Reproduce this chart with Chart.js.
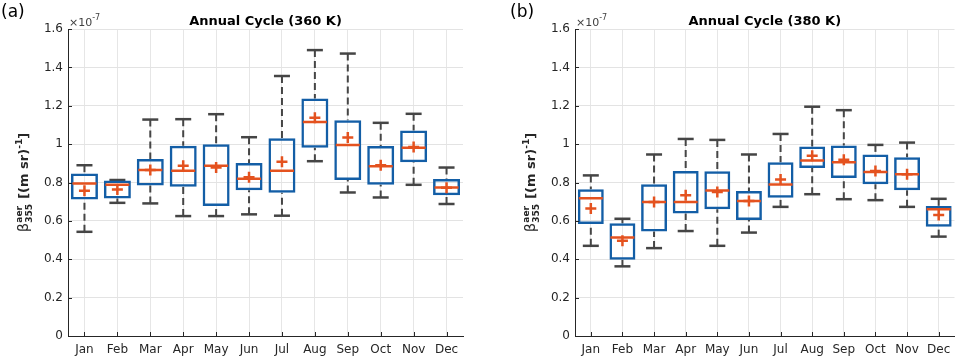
<!DOCTYPE html>
<html>
<head>
<meta charset="utf-8">
<script src="https://cdn.jsdelivr.net/npm/chart.js@4.4.0/dist/chart.umd.min.js"></script>
<style>
  body { margin: 0; background: #fff; }
  #wrap { position: relative; width: 969px; height: 360px; }
  canvas { position: absolute; top: 0; }
</style>
</head>
<body>
<div id="wrap">
  <canvas id="chartA" width="484" height="360" style="left:0"></canvas>
  <canvas id="chartB" width="485" height="360" style="left:484px"></canvas>
</div>
<script>
const months = ['Jan', 'Feb', 'Mar', 'Apr', 'May', 'Jun', 'Jul', 'Aug', 'Sep', 'Oct', 'Nov', 'Dec'];
const yTicks = [0, 0.2, 0.4, 0.6, 0.8, 1, 1.2, 1.4, 1.6];

// (a) 360 K, values in 1e-7 (m sr)^-1
const lowA    = [0.543, 0.694, 0.691, 0.625, 0.625, 0.634, 0.627, 0.911, 0.748, 0.722, 0.788, 0.688];
const q1A     = [0.712, 0.717, 0.785, 0.778, 0.677, 0.760, 0.747, 0.981, 0.813, 0.788, 0.906, 0.734];
const medianA = [0.795, 0.788, 0.865, 0.861, 0.887, 0.819, 0.861, 1.115, 0.995, 0.885, 0.981, 0.774];
const q3A     = [0.847, 0.810, 0.922, 0.991, 1.000, 0.901, 1.030, 1.238, 1.125, 0.990, 1.071, 0.818];
const highA   = [0.890, 0.813, 1.128, 1.130, 1.156, 1.036, 1.355, 1.490, 1.472, 1.111, 1.158, 0.878];
const meanA   = [0.757, 0.764, 0.865, 0.887, 0.878, 0.828, 0.908, 1.137, 1.035, 0.890, 0.985, 0.772];

// (b) 380 K
const lowB    = [0.470, 0.363, 0.458, 0.547, 0.470, 0.539, 0.673, 0.739, 0.713, 0.708, 0.673, 0.518];
const q1B     = [0.584, 0.397, 0.544, 0.639, 0.660, 0.604, 0.720, 0.875, 0.824, 0.791, 0.760, 0.570];
const medianB = [0.718, 0.514, 0.698, 0.698, 0.758, 0.704, 0.789, 0.915, 0.905, 0.855, 0.843, 0.661];
const q3B     = [0.765, 0.587, 0.791, 0.860, 0.858, 0.756, 0.906, 0.988, 0.993, 0.946, 0.931, 0.677];
const highB   = [0.837, 0.611, 0.946, 1.027, 1.022, 0.946, 1.053, 1.195, 1.177, 0.996, 1.008, 0.715];
const meanB   = [0.665, 0.497, 0.698, 0.734, 0.751, 0.704, 0.815, 0.939, 0.918, 0.860, 0.843, 0.630];

const BLUE = '#135ea6';
const ORANGE = '#e4521f';
const WHISKER = '#454545';
const AXIS = '#262626';
const FONT = '"DejaVu Sans", sans-serif';

function drawYTitle(ctx, cx, cy) {
  const big = 'bold 13px ' + FONT, small = 'bold 9px ' + FONT, greek = '14px ' + FONT;
  ctx.font = greek; const wb = ctx.measureText('β').width;
  ctx.font = small;
  const ws = Math.max(ctx.measureText('aer').width, ctx.measureText('355').width);
  const wm1 = ctx.measureText('-1').width;
  ctx.font = big;
  const wmain = ctx.measureText(' [(m sr)').width, wc = ctx.measureText(']').width;
  const total = wb + ws + 1 + wmain + wm1 + wc;
  ctx.save();
  ctx.translate(cx, cy);
  ctx.rotate(-Math.PI / 2);
  ctx.fillStyle = AXIS;
  ctx.textAlign = 'left';
  ctx.textBaseline = 'alphabetic';
  let x = -total / 2;
  ctx.font = greek; ctx.fillText('β', x, 0); x += wb;
  ctx.font = small; ctx.fillText('aer', x + 0.5, -6); ctx.fillText('355', x + 0.5, 4); x += ws + 1;
  ctx.font = big; ctx.fillText(' [(m sr)', x, 0); x += wmain;
  ctx.font = small; ctx.fillText('-1', x, -6); x += wm1;
  ctx.font = big; ctx.fillText(']', x, 0);
  ctx.restore();
}

function decor(stats, title, tag, tagX) {
  return {
    id: 'decor',
    beforeDatasetsDraw(chart) {
      const { ctx, scales: { x, y } } = chart;
      ctx.save();
      ctx.strokeStyle = WHISKER;
      ctx.lineWidth = 2;
      stats.low.forEach((lo, i) => {
        const px = x.getPixelForValue(i);
        [[lo, stats.q1[i]], [stats.high[i], stats.q3[i]]].forEach(([w, b]) => {
          const pw = y.getPixelForValue(w), pb = y.getPixelForValue(b);
          ctx.setLineDash([7, 4]);
          ctx.beginPath(); ctx.moveTo(px, pw); ctx.lineTo(px, pb); ctx.stroke();
          ctx.setLineDash([]);
          ctx.lineWidth = 2.5;
          ctx.beginPath(); ctx.moveTo(px - 8, pw); ctx.lineTo(px + 8, pw); ctx.stroke();
          ctx.lineWidth = 2;
        });
      });
      ctx.restore();
    },
    afterDraw(chart) {
      const { ctx, chartArea: a, scales: { x, y } } = chart;
      ctx.save();
      // inward tick marks
      ctx.strokeStyle = AXIS;
      ctx.lineWidth = 1;
      yTicks.forEach(v => {
        const py = Math.round(y.getPixelForValue(v)) + 0.5;
        ctx.beginPath(); ctx.moveTo(a.left, py); ctx.lineTo(a.left + 4, py); ctx.stroke();
      });
      months.forEach((m, i) => {
        const px = Math.round(x.getPixelForValue(i)) + 0.5;
        ctx.beginPath(); ctx.moveTo(px, a.bottom); ctx.lineTo(px, a.bottom - 4); ctx.stroke();
      });
      // title
      ctx.fillStyle = '#000';
      ctx.font = 'bold 13px ' + FONT;
      ctx.textAlign = 'center';
      ctx.textBaseline = 'alphabetic';
      ctx.fillText(title, (a.left + a.right) / 2, 25);
      // exponent
      ctx.fillStyle = '#404040';
      ctx.textAlign = 'left';
      ctx.font = '11px ' + FONT;
      ctx.fillText('×10', a.left + 1, 26);
      const w = ctx.measureText('×10').width;
      ctx.font = '8px ' + FONT;
      ctx.fillText('-7', a.left + 1 + w, 20);
      // panel tag
      ctx.fillStyle = '#000';
      ctx.font = '17px ' + FONT;
      ctx.fillText(tag, tagX, 17);
      ctx.restore();
      drawYTitle(ctx, a.left - 40, (a.top + a.bottom) / 2);
    }
  };
}

function boxChart(id, stats, title, tag, tagX, axisWidth, padRight) {
  const ctx = document.getElementById(id).getContext('2d');
  return new Chart(ctx, {
    type: 'bar',
    data: {
      labels: months,
      datasets: [
        {
          type: 'line', label: 'Mean', data: stats.mean, showLine: false,
          pointStyle: 'cross', pointRadius: 5.5, pointBorderColor: ORANGE,
          pointBackgroundColor: ORANGE, pointBorderWidth: 2.5, order: 0
        },
        {
          type: 'line', label: 'Median', data: stats.median, showLine: false,
          pointStyle: 'line', pointRadius: 12, pointBorderColor: ORANGE,
          pointBorderWidth: 2.5, order: 1
        },
        {
          label: 'IQR', data: stats.q1.map((v, i) => [v, stats.q3[i]]),
          backgroundColor: 'rgba(255,255,255,0)', borderColor: BLUE, borderWidth: 2.5,
          borderSkipped: false, barPercentage: 0.82, categoryPercentage: 1, order: 2
        }
      ]
    },
    options: {
      responsive: false,
      animation: false,
      events: [],
      layout: { padding: { top: 29, right: padRight, bottom: 0, left: 0 } },
      scales: {
        x: {
          grid: { color: '#e6e6e6', offset: false, drawTicks: false },
          border: { color: AXIS, width: 1 },
          ticks: { color: AXIS, font: { family: FONT, size: 12 }, padding: 7, maxRotation: 0 },
          afterFit: s => { s.height = 24; }
        },
        y: {
          min: 0, max: 1.6,
          grid: { color: '#e3e3e3', drawTicks: false },
          border: { color: AXIS, width: 1 },
          afterBuildTicks: s => { s.ticks = yTicks.map(v => ({ value: v })); },
          ticks: {
            color: AXIS, font: { family: FONT, size: 12 }, padding: 5,
            callback: v => String(parseFloat(v.toFixed(1)))
          },
          afterFit: s => { s.width = axisWidth; }
        }
      },
      plugins: { legend: { display: false }, tooltip: { enabled: false } }
    },
    plugins: [decor(stats, title, tag, tagX)]
  });
}

boxChart('chartA',
  { low: lowA, q1: q1A, median: medianA, q3: q3A, high: highA, mean: meanA },
  'Annual Cycle (360 K)', '(a)', 1, 68, 21);
boxChart('chartB',
  { low: lowB, q1: q1B, median: medianB, q3: q3B, high: highB, mean: meanB },
  'Annual Cycle (380 K)', '(b)', 26, 91, 2);
</script>
</body>
</html>
